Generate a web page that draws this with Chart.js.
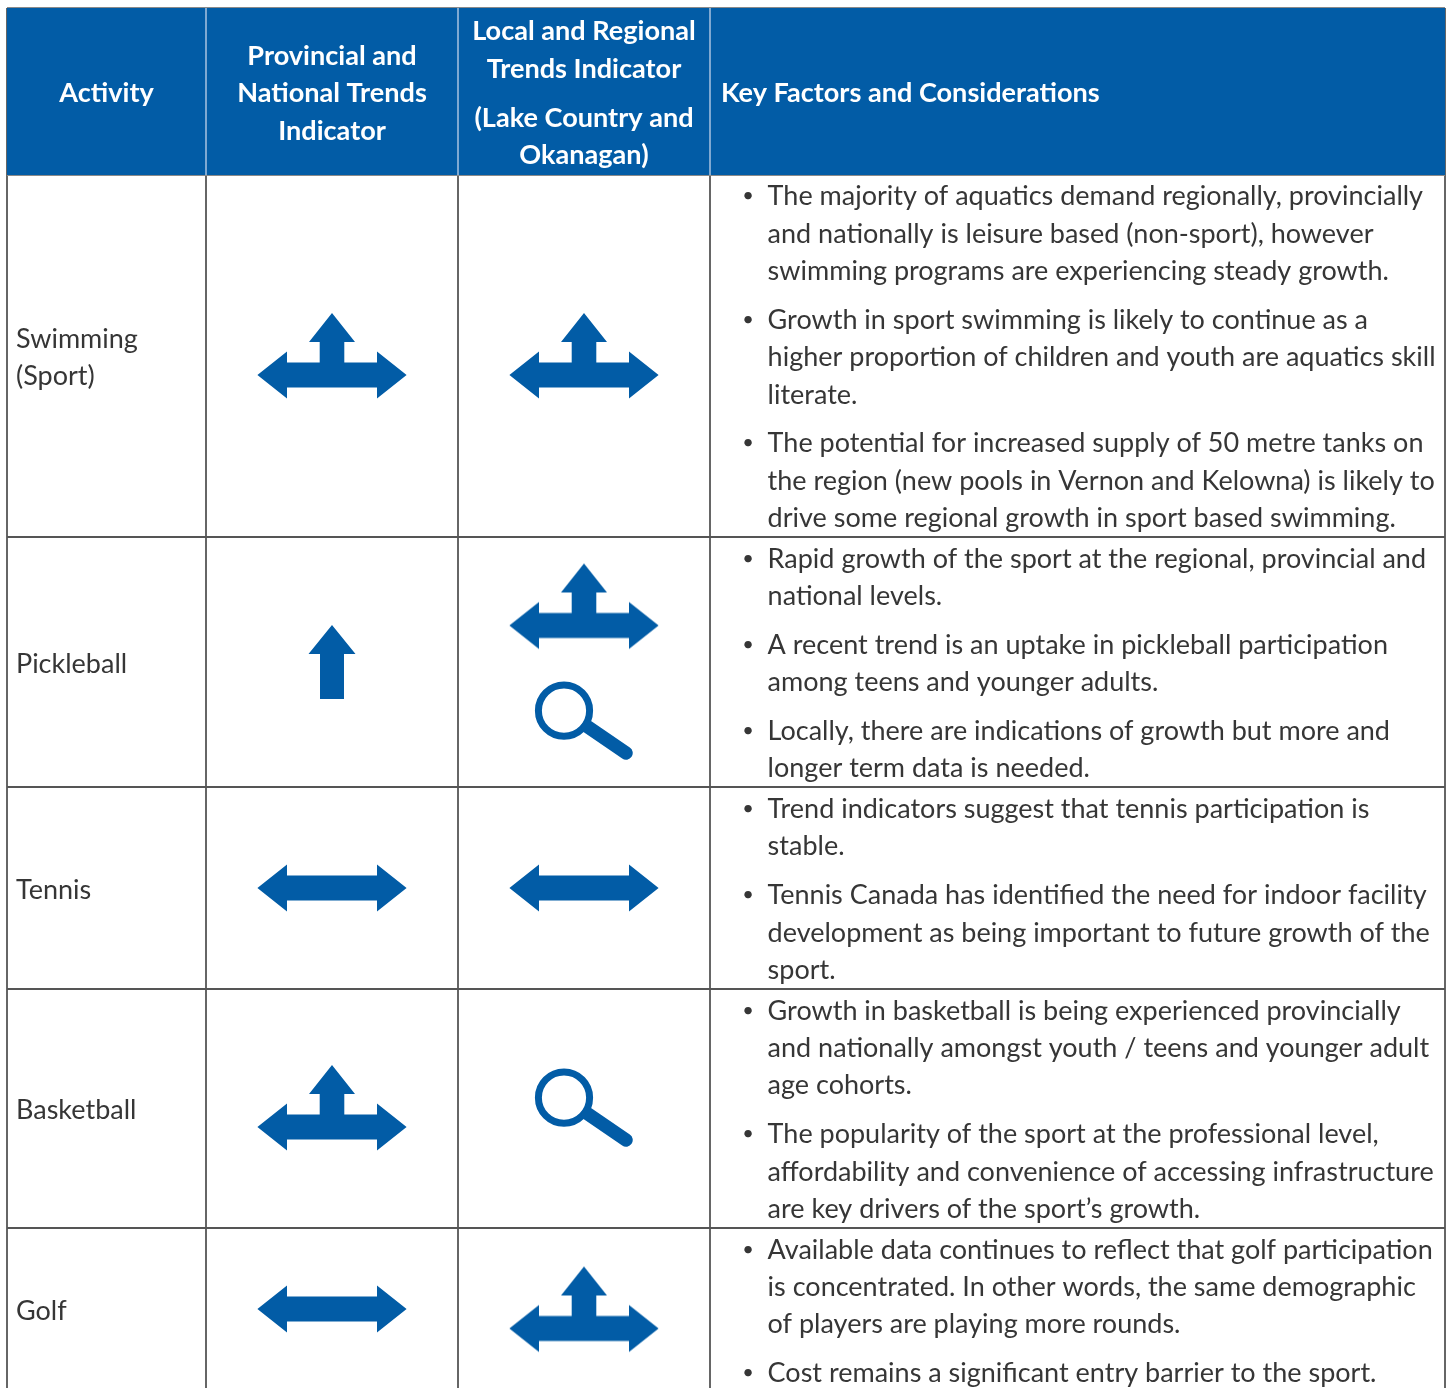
<!DOCTYPE html>
<html><head><meta charset="utf-8">
<script src="https://cdn.jsdelivr.net/npm/chart.js@4"></script>
<style>html,body{margin:0;padding:0;background:#fff}canvas{display:block}</style>
</head><body><canvas id="c" width="1452" height="1388"></canvas>
<script>
const activities = [['Swimming','(Sport)'],['Pickleball'],['Tennis'],['Basketball'],['Golf']];
const provincialTrend = ['both','up','flat','both','flat'];
const localTrend = [['both'],['both','search'],['flat'],['search'],['both']];
const provincialIconY = [356,662,888,1108,1309];
const localIconY = [[356],[606.5,721],[888],[1108],[1309.5]];

const headerActivity = ['Activity'];
const headerProvincial = ['Provincial and','National Trends','Indicator'];
const headerLocal = ['Local and Regional','Trends Indicator','(Lake Country and','Okanagan)'];
const headerFactors = ['Key Factors and Considerations'];

const factors = [
 [['The majority of aquatics demand regionally, provincially','and nationally is leisure based (non-sport), however','swimming programs are experiencing steady growth.'],
  ['Growth in sport swimming is likely to continue as a','higher proportion of children and youth are aquatics skill','literate.'],
  ['The potential for increased supply of 50 metre tanks on','the region (new pools in Vernon and Kelowna) is likely to','drive some regional growth in sport based swimming.']],
 [['Rapid growth of the sport at the regional, provincial and','national levels.'],
  ['A recent trend is an uptake in pickleball participation','among teens and younger adults.'],
  ['Locally, there are indications of growth but more and','longer term data is needed.']],
 [['Trend indicators suggest that tennis participation is','stable.'],
  ['Tennis Canada has identified the need for indoor facility','development as being important to future growth of the','sport.']],
 [['Growth in basketball is being experienced provincially','and nationally amongst youth / teens and younger adult','age cohorts.'],
  ['The popularity of the sport at the professional level,','affordability and convenience of accessing infrastructure','are key drivers of the sport\u2019s growth.']],
 [['Available data continues to reflect that golf participation','is concentrated. In other words, the same demographic','of players are playing more rounds.'],
  ['Cost remains a significant entry barrier to the sport.']]
];

// table frame
const columnEdges = [7,206,458,710,1445];
const rowEdges = [8,175,537,787,989,1228];
const factorLineY = [196,234,271, 320,357,395, 443,481,518, 559,596, 645,682, 731,768, 809,846, 895,933,970, 1011,1048,1085, 1134,1172,1209, 1250,1287,1324, 1373];
const activityY = [[339,376],[664],[890],[1110],[1311]];
const headerActivityY = [93];
const headerProvincialY = [56,93,131];
const headerLocalY = [31,69,118,155];
const headerFactorsY = [93];

const BLUE = '#025CA6', INK = '#363636', RULE_V = '#666666', RULE_H = '#555555', RULE_HEAD = '#8a8a8a', DIVIDER = '#7FA9D2';
const FONT_BODY = '400 27px Lato', FONT_HEAD = '700 27.1px Lato', FONT_BULLET = '400 20px Lato';

function iconCanvas(w,h,draw){
  const c=document.createElement('canvas');c.width=w;c.height=h;
  const g=c.getContext('2d');g.translate(w/2,h/2);g.fillStyle=BLUE;g.strokeStyle=BLUE;draw(g);return c;
}
function poly(g,p){g.beginPath();p.forEach((q,i)=>i?g.lineTo(q[0],q[1]):g.moveTo(q[0],q[1]));g.closePath();g.fill();}
const horizPts=(cy)=>[[-74.6,cy],[-45,cy-23.5],[-45,cy-12.5],[45,cy-12.5],[45,cy-23.5],[74.6,cy],[45,cy+23.5],[45,cy+12.5],[-45,cy+12.5],[-45,cy+23.5]];
const icons={
 flat:iconCanvas(152,50,g=>poly(g,horizPts(0))),
 both:iconCanvas(152,88,g=>{poly(g,horizPts(19));poly(g,[[0,-43],[23,-14],[12.3,-14],[12.3,10],[-12.3,10],[-12.3,-14],[-23,-14]]);}),
 up:iconCanvas(50,76,g=>poly(g,[[0,-37],[23.5,-8],[12,-8],[12,37],[-12,37],[-12,-8],[-23.5,-8]])),
 search:iconCanvas(100,80,g=>{
   g.lineWidth=7;g.beginPath();g.arc(-20,-10.3,25.6,0,Math.PI*2);g.stroke();
   g.lineWidth=13.5;g.lineCap='round';g.beginPath();g.moveTo(4,6);g.lineTo(42,32);g.stroke();
 })
};
const colCentre=i=>(columnEdges[i]+columnEdges[i+1])/2;
const marks=[];
provincialTrend.forEach((k,i)=>marks.push({x:colCentre(1),y:provincialIconY[i],k}));
localTrend.forEach((list,i)=>list.forEach((k,j)=>marks.push({x:colCentre(2),y:localIconY[i][j],k})));

const tablePlugin={
 id:'tableText',
 afterDatasetsDraw(chart){
  const {ctx,scales:{x,y}}=chart;
  ctx.save();
  ctx.strokeStyle=DIVIDER;ctx.lineWidth=2;
  columnEdges.slice(1,-1).forEach(v=>{const px=Math.round(x.getPixelForValue(v));
    ctx.beginPath();ctx.moveTo(px,y.getPixelForValue(rowEdges[0]));ctx.lineTo(px,y.getPixelForValue(rowEdges[1]));ctx.stroke();});
  ctx.textBaseline='middle';
  const put=(t,px,py,align)=>{ctx.textAlign=align;ctx.fillText(t,x.getPixelForValue(px),y.getPixelForValue(py));};
  ctx.font=FONT_HEAD;ctx.fillStyle='#ffffff';
  headerActivity.forEach((t,i)=>put(t,colCentre(0),headerActivityY[i],'center'));
  headerProvincial.forEach((t,i)=>put(t,colCentre(1),headerProvincialY[i],'center'));
  headerLocal.forEach((t,i)=>put(t,colCentre(2),headerLocalY[i],'center'));
  headerFactors.forEach((t,i)=>put(t,721,headerFactorsY[i],'left'));
  ctx.fillStyle=INK;
  ctx.font=FONT_BODY;
  activities.forEach((lines,r)=>lines.forEach((t,i)=>put(t,16,activityY[r][i],'left')));
  let n=0;
  factors.forEach(row=>row.forEach(par=>par.forEach((t,i)=>{
    if(i===0){ctx.font=FONT_BULLET;put('\u2022',748,factorLineY[n],'center');ctx.font=FONT_BODY;}
    put(t,767.6,factorLineY[n],'left');n++;
  })));
  ctx.restore();
 }
};

new Chart(document.getElementById('c'),{
 type:'scatter',
 data:{datasets:[
  {label:'Indicators',data:marks.map(m=>({x:m.x,y:m.y})),pointStyle:marks.map(m=>icons[m.k]),showLine:false},
  {label:'Header',type:'line',data:[{x:columnEdges[0],y:rowEdges[1]},{x:columnEdges[4],y:rowEdges[1]}],
   borderColor:'rgba(0,0,0,0)',borderWidth:0,pointRadius:0,backgroundColor:BLUE,fill:{value:rowEdges[0]}}
 ]},
 options:{
  responsive:false,animation:false,devicePixelRatio:1,
  layout:{autoPadding:false,padding:{left:columnEdges[0],top:rowEdges[0],right:1452-columnEdges[4],bottom:0}},
  plugins:{legend:{display:false},tooltip:{enabled:false}},
  scales:{
   x:{type:'linear',min:columnEdges[0],max:columnEdges[4],display:true,
      afterBuildTicks:a=>{a.ticks=columnEdges.map(v=>({value:v}));},
      afterFit:a=>{a.height=0;},
      ticks:{display:false},border:{display:false},
      grid:{color:RULE_V,lineWidth:2,drawTicks:false}},
   y:{type:'linear',reverse:true,min:rowEdges[0],max:1388,display:true,
      afterBuildTicks:a=>{a.ticks=rowEdges.map(v=>({value:v}));},
      afterFit:a=>{a.width=0;},
      ticks:{display:false},border:{display:false},
      grid:{color:c=>c.index<2?RULE_HEAD:RULE_H,lineWidth:2,drawTicks:false}}
  }
 },
 plugins:[tablePlugin]
});
</script></body></html>
